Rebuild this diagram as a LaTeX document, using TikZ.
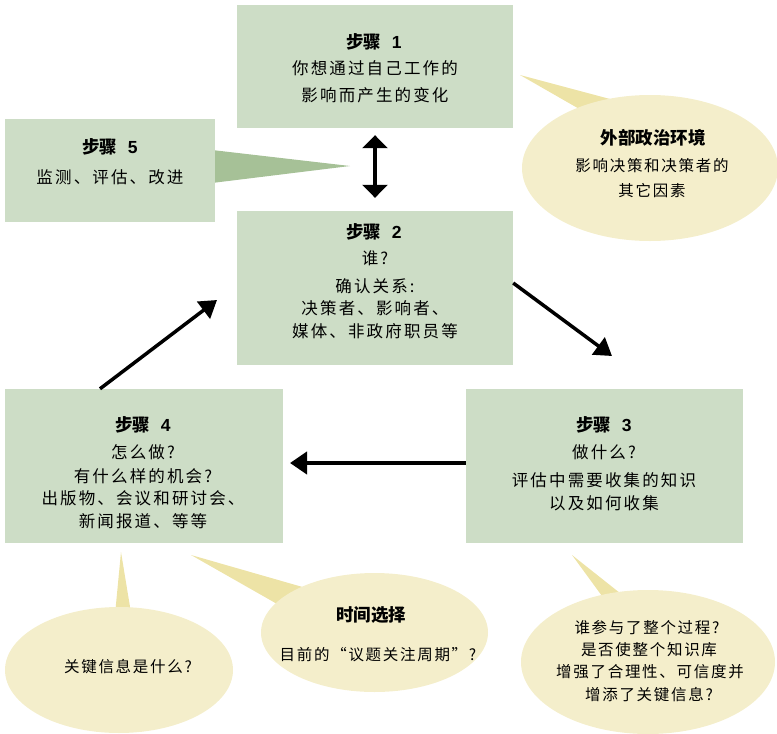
\documentclass[tikz,border=0pt]{standalone}
\usepackage{fontspec}
\usetikzlibrary{arrows.meta,shapes.geometric}
\newfontfamily\cjkA[LetterSpace=13]{Noto Sans CJK SC}
\newfontfamily\cjkB[LetterSpace=11]{Noto Sans CJK SC}
\newfontfamily\cjkH{Noto Sans CJK SC}
\newfontfamily\latH{Liberation Sans}
\definecolor{boxg}{HTML}{CDDDC6}
\definecolor{wedgeg}{HTML}{A6C197}
\definecolor{ellf}{HTML}{F4EECB}
\definecolor{wedgey}{HTML}{EDE3A6}
\newcommand{\stephd}[1]{步骤\hspace{0.6em}{\latH\bfseries #1}}
\begin{document}
\begin{tikzpicture}[x=1pt,y=-1pt,
  box/.style={fill=boxg, draw=none, inner sep=0pt},
  bubble/.style={ellipse, fill=ellf, draw=none, inner sep=0pt},
  txt/.style={inner sep=0pt, font=\cjkA\fontsize{16.5}{20}\selectfont},
  stxt/.style={inner sep=0pt, font=\cjkB\fontsize{15.5}{19}\selectfont},
  hd/.style={inner sep=0pt, font=\cjkH\bfseries\fontsize{17.5}{20}\selectfont},
  arr/.style={line width=3.5pt, -{Triangle[length=17pt,width=21pt]}},
  darr/.style={line width=4pt, {Triangle[length=13pt,width=25pt]}-{Triangle[length=13pt,width=25pt]}}
]
\useasboundingbox (0,0) rectangle (777,734);

% wedges (drawn under boxes and bubbles)
\fill[wedgeg] (212,150) -- (350,166) -- (212,183) -- cycle;
\fill[wedgey] (520,75) -- (625,103) -- (595,118) -- cycle;
\fill[wedgey] (121,552) -- (133,625) -- (114,625) -- cycle;
\fill[wedgey] (191,555) -- (320,592) -- (300,617) -- cycle;
\fill[wedgey] (572,555) -- (630,601) -- (610,607) -- cycle;

% boxes
\node[box, minimum width=276pt, minimum height=123pt] (s1) at (375,66.5) {};
\node[box, minimum width=210pt, minimum height=103pt] (s5) at (110,170.5) {};
\node[box, minimum width=276pt, minimum height=154pt] (s2) at (375,288) {};
\node[box, minimum width=277pt, minimum height=154pt] (s3) at (604.5,466) {};
\node[box, minimum width=278pt, minimum height=154pt] (s4) at (144,466) {};

% bubbles
\node[bubble, minimum width=256pt, minimum height=146pt] (b0) at (650,168) {};
\node[bubble, minimum width=228pt, minimum height=126pt] (b1) at (119,670) {};
\node[bubble, minimum width=227pt, minimum height=119pt] (b2) at (374.5,632.5) {};
\node[bubble, minimum width=254pt, minimum height=144pt] (b3) at (648,662) {};

% step 1 text
\node[hd] (s1h) at (374,42) {\stephd{1}};
\node[txt] (s1a) at (375,68) {你想通过自己工作的};
\node[txt] (s1b) at (375,95) {影响而产生的变化};
% step 5 text
\node[hd] (s5h) at (110,147) {\stephd{5}};
\node[txt] (s5a) at (110,177) {监测、评估、改进};
% step 2 text
\node[hd] (s2h) at (374,232) {\stephd{2}};
\node[txt] (s2a) at (375,258) {谁?};
\node[txt] (s2b) at (375,286) {确认关系:};
\node[txt] (s2c) at (375,308) {决策者、影响者、};
\node[txt] (s2d) at (375,331) {媒体、非政府职员等};
% step 3 text
\node[hd] (s3h) at (604,425) {\stephd{3}};
\node[txt] (s3a) at (604,452) {做什么?};
\node[txt] (s3b) at (604,480) {评估中需要收集的知识};
\node[txt] (s3c) at (604,503) {以及如何收集};
% step 4 text
\node[hd] (s4h) at (143,425) {\stephd{4}};
\node[txt] (s4a) at (143,452) {怎么做?};
\node[txt] (s4b) at (143,476) {有什么样的机会?};
\node[txt] (s4c) at (143,498) {出版物、会议和研讨会、};
\node[txt] (s4d) at (143,521) {新闻报道、等等};
% bubble texts
\node[hd] (b0h) at (653,138) {外部政治环境};
\node[stxt] (b0a) at (652,166) {影响决策和决策者的};
\node[stxt] (b0b) at (652,191) {其它因素};
\node[stxt] (b1a) at (128,667) {关键信息是什么?};
\node[hd] (b2h) at (371,615) {时间选择};
\node[stxt] (b2a) at (378,655) {目前的“议题关注周期”?};
\node[stxt] (b3a) at (647,628) {谁参与了整个过程?};
\node[stxt] (b3b) at (649,650) {是否使整个知识库};
\node[stxt] (b3c) at (650,672) {增强了合理性、可信度并};
\node[stxt] (b3d) at (649,695) {增添了关键信息?};

% connectors
\coordinate (e23) at (612,356);
\coordinate (e34) at (290,463);
\coordinate (e42) at (217,300);
\draw[darr] ([yshift=-7pt]s1.south) -- ([yshift=13pt]s2.north);
\draw[arr] ([yshift=5pt]s2.east) -- (e23);
\draw[arr, line width=4pt, -{Triangle[length=17pt,width=22pt]}] ([yshift=3pt]s3.west) -- (e34);
\draw[arr] ([xshift=-44pt]s4.north) -- (e42);
\end{tikzpicture}
\end{document}
